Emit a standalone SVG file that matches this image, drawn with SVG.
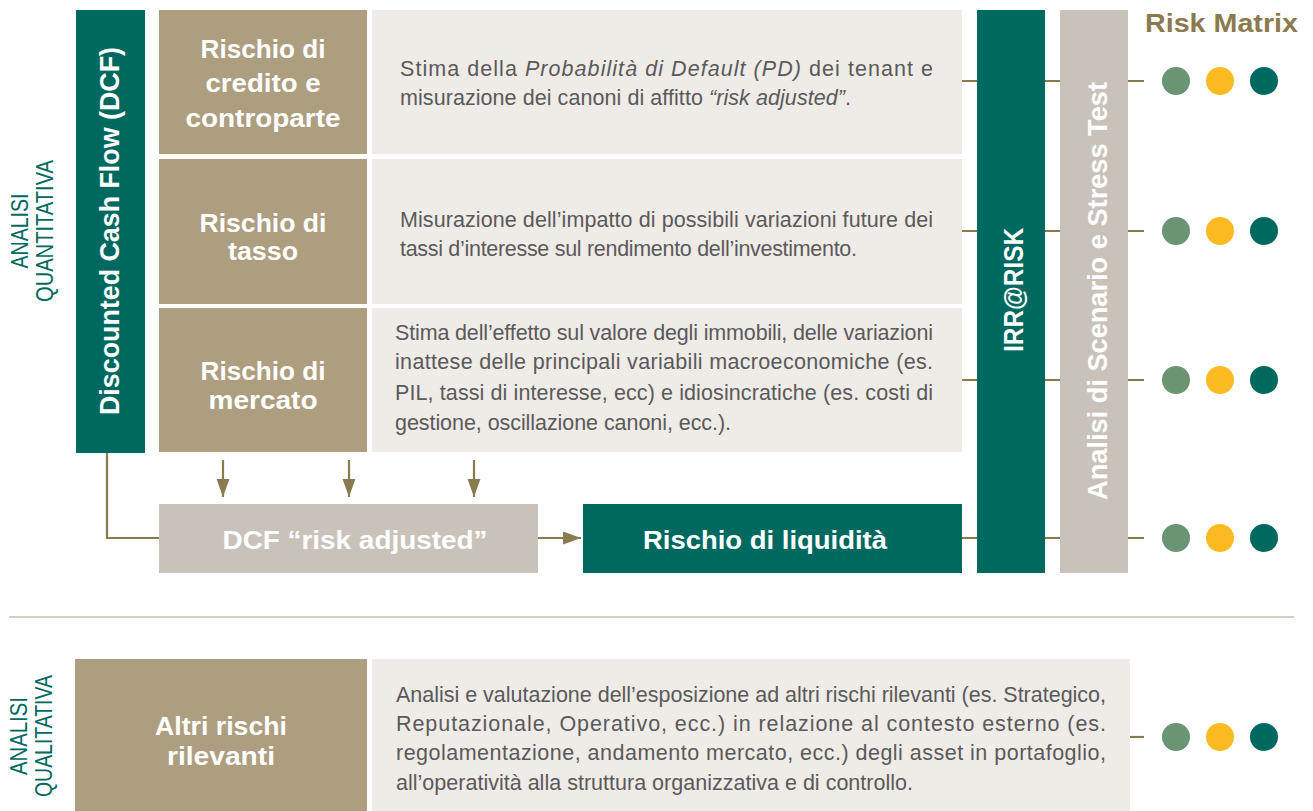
<svg xmlns="http://www.w3.org/2000/svg" width="1313" height="811" viewBox="0 0 1313 811">
<defs>
<style>
.teal{fill:#00695f}
.brown{fill:#ad9e80}
.light{fill:#efebe7}
.grey{fill:#c9c2bb}
.lbl{font-family:"Liberation Sans",Arial,sans-serif;font-weight:bold;font-size:26px;fill:#ffffff;text-anchor:middle}
.vlbl{font-family:"Liberation Sans",Arial,sans-serif;font-weight:bold;font-size:28px;fill:#ffffff;text-anchor:middle}
.desc{font-family:"Liberation Sans",Arial,sans-serif;font-size:21.5px;fill:#5a5a5a}
.it{font-style:italic}
.side{font-family:"Liberation Sans",Arial,sans-serif;font-size:23px;fill:#00695f;text-anchor:middle}
.conn{stroke:#8a7a50;stroke-width:2.2;fill:none}
.d1{fill:#6a9473}
.d2{fill:#fbba22}
.d3{fill:#00695f}
</style>
<marker id="ah" viewBox="0 0 14 10" refX="14" refY="5" markerWidth="8.2" markerHeight="6" markerUnits="strokeWidth" orient="auto">
<path d="M0,0 L14,5 L0,10 z" fill="#8a7a50"/>
</marker>
</defs>
<rect width="1313" height="811" fill="#ffffff"/>

<g id="side-labels">
<text class="side" transform="translate(28,231) rotate(-90)" textLength="75" lengthAdjust="spacingAndGlyphs">ANALISI</text>
<text class="side" transform="translate(53,231) rotate(-90)" textLength="142" lengthAdjust="spacingAndGlyphs">QUANTITATIVA</text>
<text class="side" transform="translate(27,736) rotate(-90)" textLength="78" lengthAdjust="spacingAndGlyphs">ANALISI</text>
<text class="side" transform="translate(52,736) rotate(-90)" textLength="122" lengthAdjust="spacingAndGlyphs">QUALITATIVA</text>
</g>

<g id="dcf-bar">
<rect class="teal" x="76" y="10" width="69" height="443"/>
<text class="vlbl" transform="translate(119,231) rotate(-90)" textLength="368" lengthAdjust="spacingAndGlyphs">Discounted Cash Flow (DCF)</text>
</g>

<g id="rischio-credito">
<rect class="brown" x="159" y="10" width="208" height="144"/>
<text class="lbl" x="263" y="58" textLength="125" lengthAdjust="spacingAndGlyphs">Rischio di</text>
<text class="lbl" x="263" y="92" textLength="115" lengthAdjust="spacingAndGlyphs">credito e</text>
<text class="lbl" x="263" y="127" textLength="155" lengthAdjust="spacingAndGlyphs">controparte</text>
</g>
<g id="desc-credito">
<rect class="light" x="372" y="10" width="590" height="144"/>
<text class="desc" x="400" y="76" textLength="533" lengthAdjust="spacing">Stima della <tspan class="it">Probabilità di Default (PD)</tspan> dei tenant e</text>
<text class="desc" x="400" y="105" textLength="451" lengthAdjust="spacing">misurazione dei canoni di affitto <tspan class="it">“risk adjusted”</tspan>.</text>
</g>

<g id="rischio-tasso">
<rect class="brown" x="159" y="159" width="208" height="145"/>
<text class="lbl" x="263" y="232" textLength="127" lengthAdjust="spacingAndGlyphs">Rischio di</text>
<text class="lbl" x="263" y="260" textLength="70" lengthAdjust="spacingAndGlyphs">tasso</text>
</g>
<g id="desc-tasso">
<rect class="light" x="372" y="159" width="590" height="145"/>
<text class="desc" x="400" y="227" textLength="533" lengthAdjust="spacing">Misurazione dell’impatto di possibili variazioni future dei</text>
<text class="desc" x="400" y="256" textLength="457" lengthAdjust="spacing">tassi d’interesse sul rendimento dell’investimento.</text>
</g>

<g id="rischio-mercato">
<rect class="brown" x="159" y="308" width="208" height="144"/>
<text class="lbl" x="263" y="380" textLength="125" lengthAdjust="spacingAndGlyphs">Rischio di</text>
<text class="lbl" x="263" y="409" textLength="109" lengthAdjust="spacingAndGlyphs">mercato</text>
</g>
<g id="desc-mercato">
<rect class="light" x="372" y="308" width="590" height="144"/>
<text class="desc" x="395" y="340" textLength="538" lengthAdjust="spacing">Stima dell’effetto sul valore degli immobili, delle variazioni</text>
<text class="desc" x="395" y="369" textLength="538" lengthAdjust="spacing">inattese delle principali variabili macroeconomiche (es.</text>
<text class="desc" x="395" y="400" textLength="538" lengthAdjust="spacing">PIL, tassi di interesse, ecc) e idiosincratiche (es. costi di</text>
<text class="desc" x="395" y="430" textLength="336" lengthAdjust="spacing">gestione, oscillazione canoni, ecc.).</text>
</g>

<g id="dcf-risk-adjusted">
<rect class="grey" x="159" y="504" width="379" height="69"/>
<text class="lbl" x="355" y="549" textLength="265" lengthAdjust="spacingAndGlyphs">DCF “risk adjusted”</text>
</g>

<g id="rischio-liquidita">
<rect class="teal" x="583" y="504" width="379" height="69"/>
<text class="lbl" x="765" y="549" textLength="244" lengthAdjust="spacingAndGlyphs">Rischio di liquidità</text>
</g>

<g id="irr-risk">
<rect class="teal" x="977" y="10" width="68" height="563"/>
<text class="vlbl" transform="translate(1023,290) rotate(-90)" textLength="124" lengthAdjust="spacingAndGlyphs">IRR@RISK</text>
</g>

<g id="analisi-scenario">
<rect class="grey" x="1060" y="10" width="68" height="563"/>
<text class="vlbl" transform="translate(1107,291) rotate(-90)" textLength="418" lengthAdjust="spacingAndGlyphs">Analisi di Scenario e Stress Test</text>
</g>

<g id="risk-matrix-title">
<text x="1145" y="32" font-family="Liberation Sans, Arial, sans-serif" font-weight="bold" font-size="26" fill="#8a7a4e" textLength="153" lengthAdjust="spacingAndGlyphs">Risk Matrix</text>
</g>

<g id="separator">
<line x1="9" y1="617" x2="1294" y2="617" stroke="#d6cfc3" stroke-width="2"/>
</g>

<g id="altri-rischi">
<rect class="brown" x="75" y="659" width="292" height="152"/>
<text class="lbl" x="221" y="735" textLength="132" lengthAdjust="spacingAndGlyphs">Altri rischi</text>
<text class="lbl" x="221" y="765" textLength="108" lengthAdjust="spacingAndGlyphs">rilevanti</text>
</g>
<g id="desc-altri">
<rect class="light" x="372" y="659" width="758" height="152"/>
<text class="desc" x="396" y="702" textLength="710" lengthAdjust="spacing">Analisi e valutazione dell’esposizione ad altri rischi rilevanti (es. Strategico,</text>
<text class="desc" x="396" y="731" textLength="710" lengthAdjust="spacing">Reputazionale, Operativo, ecc.) in relazione al contesto esterno (es.</text>
<text class="desc" x="396" y="760" textLength="710" lengthAdjust="spacing">regolamentazione, andamento mercato, ecc.) degli asset in portafoglio,</text>
<text class="desc" x="396" y="790" textLength="517" lengthAdjust="spacing">all’operatività alla struttura organizzativa e di controllo.</text>
</g>

<g id="connectors">
<polyline class="conn" points="107,453 107,538 159,538"/>
<line class="conn" x1="223" y1="460" x2="223" y2="497" marker-end="url(#ah)"/>
<line class="conn" x1="349" y1="460" x2="349" y2="497" marker-end="url(#ah)"/>
<line class="conn" x1="474" y1="460" x2="474" y2="497" marker-end="url(#ah)"/>
<line class="conn" x1="538" y1="538" x2="581" y2="538" marker-end="url(#ah)"/>
<path class="conn" d="M962,81H977M1045,81H1060M1128,81H1144"/>
<path class="conn" d="M962,231H977M1045,231H1060M1128,231H1144"/>
<path class="conn" d="M962,380H977M1045,380H1060M1128,380H1144"/>
<path class="conn" d="M962,538H977M1045,538H1060M1128,538H1144"/>
<path class="conn" d="M1130,737H1144"/>
</g>

<g id="risk-matrix-dots">
<circle class="d1" cx="1176" cy="81" r="14"/><circle class="d2" cx="1220" cy="81" r="14"/><circle class="d3" cx="1264" cy="81" r="14"/>
<circle class="d1" cx="1176" cy="231" r="14"/><circle class="d2" cx="1220" cy="231" r="14"/><circle class="d3" cx="1264" cy="231" r="14"/>
<circle class="d1" cx="1176" cy="380" r="14"/><circle class="d2" cx="1220" cy="380" r="14"/><circle class="d3" cx="1264" cy="380" r="14"/>
<circle class="d1" cx="1176" cy="538" r="14"/><circle class="d2" cx="1220" cy="538" r="14"/><circle class="d3" cx="1264" cy="538" r="14"/>
<circle class="d1" cx="1176" cy="737" r="14"/><circle class="d2" cx="1220" cy="737" r="14"/><circle class="d3" cx="1264" cy="737" r="14"/>
</g>
</svg>
